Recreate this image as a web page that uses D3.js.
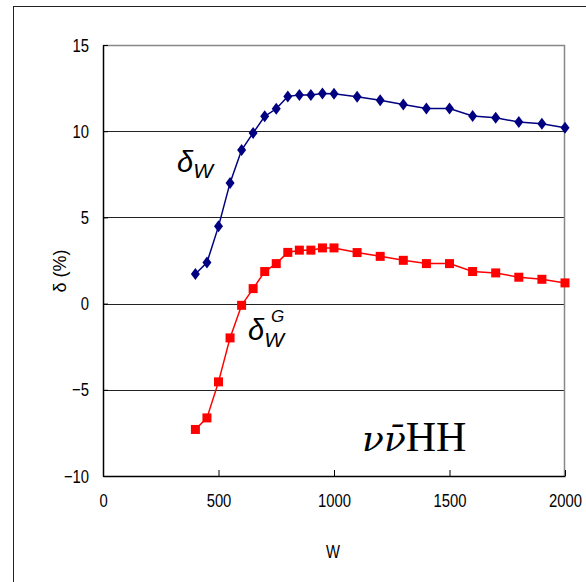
<!DOCTYPE html>
<html>
<head>
<meta charset="utf-8">
<script src="https://cdn.jsdelivr.net/npm/d3@7"></script>
<style>
  body { margin: 0; background: #fff; }
  .tick text { font-family: "Liberation Sans", sans-serif; font-size: 19px; fill: #000; }
</style>
</head>
<body>
<div id="chart"></div>
<script>
// W values shared by both series
const wValues = [400, 450, 500, 550, 600, 650, 700, 750, 800, 850, 900, 950, 1000,
  1100, 1200, 1300, 1400, 1500, 1600, 1700, 1800, 1900, 2000];
// delta_W (%)
const deltaW = [1.72, 2.38, 4.48, 7.0, 8.91, 9.9, 10.86, 11.3, 12.02, 12.1, 12.1, 12.19, 12.17,
  12.0, 11.8, 11.55, 11.32, 11.32, 10.88, 10.78, 10.53, 10.43, 10.2];
// delta_W^G (%)
const deltaWG = [-7.3, -6.63, -4.54, -1.99, -0.1, 0.87, 1.86, 2.32, 2.97, 3.1, 3.1, 3.23, 3.23,
  2.96, 2.74, 2.51, 2.32, 2.32, 1.86, 1.78, 1.53, 1.41, 1.2];
const xTicks = [0, 500, 1000, 1500, 2000];
const yTicks = [-10, -5, 0, 5, 10, 15];

const width = 586, height = 582;
const margin = {top: 45, right: 21, bottom: 106, left: 103};
const innerW = width - margin.left - margin.right;
const innerH = height - margin.top - margin.bottom;
const squeeze = 0.78; // narrow look of the original labels

const svg = d3.select('#chart').append('svg')
  .attr('width', width)
  .attr('height', height);

// outer frame (runs off right and bottom of the picture)
svg.append('rect')
  .attr('x', 13.5).attr('y', 6.5)
  .attr('width', 600).attr('height', 600)
  .attr('fill', 'none').attr('stroke', '#222').attr('stroke-width', 1);

const chart = svg.append('g')
  .attr('transform', `translate(${margin.left},${margin.top})`);

const x = d3.scaleLinear().domain([0, 2000]).range([0, innerW]);
const y = d3.scaleLinear().domain([-10, 15]).range([innerH, 0]);

// grid lines
chart.selectAll('.grid')
  .data(yTicks.filter(d => d > -10 && d < 15))
  .enter().append('line')
  .attr('class', 'grid')
  .attr('x1', 0).attr('x2', innerW)
  .attr('y1', d => Math.round(y(d)) + 0.5).attr('y2', d => Math.round(y(d)) + 0.5)
  .attr('stroke', '#222').attr('stroke-width', 1);

// top and right plot border in gray
chart.append('path')
  .attr('d', `M0,0.5H${innerW - 0.5}V${innerH}`)
  .attr('fill', 'none').attr('stroke', '#888').attr('stroke-width', 1.5);

const xAxis = d3.axisBottom(x).tickValues(xTicks).tickFormat(d3.format('d'))
  .tickSize(-6).tickPadding(18).tickSizeOuter(0);
const yAxis = d3.axisLeft(y).tickValues(yTicks).tickFormat(d => d < 0 ? '\u2212' + Math.abs(d) : d)
  .tickSize(-5).tickPadding(14).tickSizeOuter(0);

const xAxisG = chart.append('g')
  .attr('transform', `translate(0,${innerH})`)
  .call(xAxis);
const yAxisG = chart.append('g').call(yAxis);

[xAxisG, yAxisG].forEach(g => {
  g.select('.domain').attr('stroke', '#000').attr('stroke-width', 1.5);
  g.selectAll('.tick line').attr('stroke', '#000');
});
xAxisG.selectAll('.tick text').attr('transform', `scale(${squeeze},1)`);
yAxisG.selectAll('.tick text')
  .attr('x', -14 / squeeze)
  .attr('transform', `scale(${squeeze},1)`);

// lines and markers
const lineGen = d3.line()
  .x(d => x(d[0]))
  .y(d => y(d[1]));

const blue = wValues.map((w, i) => [w, deltaW[i]]);
const red = wValues.map((w, i) => [w, deltaWG[i]]);

chart.append('path').datum(blue)
  .attr('d', lineGen).attr('fill', 'none')
  .attr('stroke', '#000080').attr('stroke-width', 1.5);
chart.append('path').datum(red)
  .attr('d', lineGen).attr('fill', 'none')
  .attr('stroke', '#ff0000').attr('stroke-width', 1.5);

chart.selectAll('.diamond')
  .data(blue).enter().append('path')
  .attr('class', 'diamond')
  .attr('d', 'M0,-6L4.5,0L0,6L-4.5,0Z')
  .attr('transform', d => `translate(${x(d[0])},${y(d[1])})`)
  .attr('fill', '#000080');

chart.selectAll('.square')
  .data(red).enter().append('rect')
  .attr('class', 'square')
  .attr('x', d => x(d[0]) - 4.5).attr('y', d => y(d[1]) - 4.5)
  .attr('width', 9).attr('height', 9)
  .attr('fill', '#ff0000');

// axis titles
svg.append('text')
  .attr('transform', `translate(333,558) scale(${squeeze},1)`)
  .attr('text-anchor', 'middle')
  .attr('font-family', '"Liberation Sans", sans-serif')
  .attr('font-size', 19)
  .text('W');

svg.append('text')
  .attr('transform', 'translate(66,271) rotate(-90)')
  .attr('text-anchor', 'middle')
  .attr('font-family', '"Liberation Sans", sans-serif')
  .attr('font-size', 18)
  .text('δ (%)');

// series labels
const dW = svg.append('text')
  .attr('x', 177).attr('y', 172)
  .attr('font-family', '"Liberation Sans", sans-serif').attr('font-style', 'italic');
dW.append('tspan').attr('font-size', 29).text('δ');
dW.append('tspan').attr('font-size', 21).attr('dy', 6).text('W');

const dWG = svg.append('text')
  .attr('x', 248).attr('y', 340)
  .attr('font-family', '"Liberation Sans", sans-serif').attr('font-style', 'italic');
dWG.append('tspan').attr('font-size', 29).text('δ');
dWG.append('tspan').attr('font-size', 21).attr('dy', 7).text('W');

svg.append('text')
  .attr('x', 271).attr('y', 322)
  .attr('font-family', '"Liberation Sans", sans-serif').attr('font-style', 'italic')
  .attr('font-size', 17).text('G');

const proc = svg.append('text')
  .attr('x', 362).attr('y', 451);
proc.append('tspan')
  .attr('font-family', '"DejaVu Serif", serif').attr('font-style', 'italic').attr('font-size', 36)
  .text('ν\u03BD\u0304');
proc.append('tspan')
  .attr('font-family', '"Liberation Serif", serif').attr('font-size', 42)
  .text('HH');
</script>
</body>
</html>
